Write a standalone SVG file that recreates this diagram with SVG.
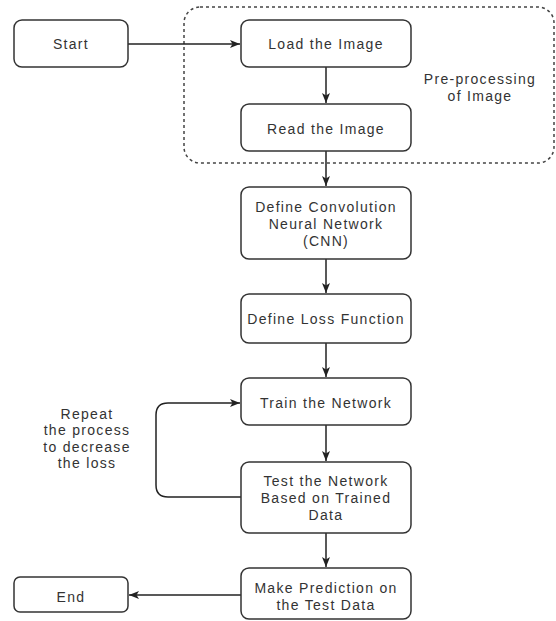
<svg xmlns="http://www.w3.org/2000/svg" width="556" height="621" viewBox="0 0 556 621">
<defs>
<marker id="arr" viewBox="0 0 10 10" refX="10" refY="5" markerWidth="10" markerHeight="10" markerUnits="userSpaceOnUse" orient="auto">
<path d="M0,1 L10,5 L0,9 L2.5,5 Z" fill="#222"/>
</marker>
</defs>
<style>
.box{fill:#fff;stroke:#333;stroke-width:1.5}
.t{font-family:"Liberation Sans",Arial,sans-serif;font-size:14px;fill:#333;text-anchor:middle;letter-spacing:1.3px}
.c{fill:none;stroke:#222;stroke-width:1.5}
.grp{fill:none;stroke:#444;stroke-width:1.5;stroke-dasharray:3 3}
</style>
<rect width="556" height="621" fill="#fff"/>
<g id="preprocessing">
<rect class="grp" x="184" y="7" width="370" height="156" rx="16"/>
<text class="t" x="480" y="84">Pre-processing</text>
<text class="t" x="480" y="101">of Image</text>
</g>
<g id="connectors">
<path class="c" d="M128,44 H240" marker-end="url(#arr)"/>
<path class="c" d="M326,67 V103" marker-end="url(#arr)"/>
<path class="c" d="M326,151 V186" marker-end="url(#arr)"/>
<path class="c" d="M326,259 V293" marker-end="url(#arr)"/>
<path class="c" d="M326,343 V377" marker-end="url(#arr)"/>
<path class="c" d="M326,425 V461" marker-end="url(#arr)"/>
<path class="c" d="M326,533 V567" marker-end="url(#arr)"/>
<path class="c" d="M241,497 H168 Q156,497 156,485 V415 Q156,403 168,403 H240" marker-end="url(#arr)"/>
<path class="c" d="M241,595 H129" marker-end="url(#arr)"/>
</g>
<g id="start">
<rect class="box" x="14" y="20" width="114" height="47" rx="8"/>
<text class="t" x="71" y="49">Start</text>
</g>
<g id="load">
<rect class="box" x="241" y="20" width="170" height="47" rx="8"/>
<text class="t" x="326" y="49">Load the Image</text>
</g>
<g id="read">
<rect class="box" x="241" y="104" width="170" height="47" rx="8"/>
<text class="t" x="326" y="134">Read the Image</text>
</g>
<g id="cnn">
<rect class="box" x="241" y="187" width="170" height="72" rx="8"/>
<text class="t" x="326" y="212">Define Convolution</text>
<text class="t" x="326" y="229">Neural Network</text>
<text class="t" x="326" y="246">(CNN)</text>
</g>
<g id="loss">
<rect class="box" x="241" y="294" width="170" height="49" rx="8"/>
<text class="t" x="326" y="324">Define Loss Function</text>
</g>
<g id="train">
<rect class="box" x="241" y="378" width="170" height="47" rx="8"/>
<text class="t" x="326" y="408">Train the Network</text>
</g>
<g id="test">
<rect class="box" x="241" y="462" width="170" height="71" rx="8"/>
<text class="t" x="326" y="486">Test the Network</text>
<text class="t" x="326" y="503">Based on Trained</text>
<text class="t" x="326" y="520">Data</text>
</g>
<g id="predict">
<rect class="box" x="241" y="568" width="170" height="51" rx="8"/>
<text class="t" x="326" y="593">Make Prediction on</text>
<text class="t" x="326" y="610">the Test Data</text>
</g>
<g id="end">
<rect class="box" x="14" y="577" width="114" height="35" rx="6"/>
<text class="t" x="71" y="602">End</text>
</g>
<g id="repeat-label">
<text class="t" x="87" y="419">Repeat</text>
<text class="t" x="87" y="435">the process</text>
<text class="t" x="87" y="452">to decrease</text>
<text class="t" x="87" y="468">the loss</text>
</g>
</svg>
